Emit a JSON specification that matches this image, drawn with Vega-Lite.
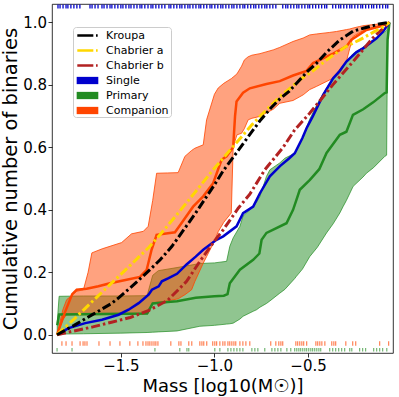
{
"$schema":"https://vega.github.io/schema/vega-lite/v6.json",
"width":341,"height":349,
"autosize":{"type":"none"},
"padding":{"left":52,"top":4,"right":6,"bottom":44},
"config":{"view":{"stroke":"#000","strokeWidth":0.8},"font":"DejaVu Sans",
"axis":{"grid":false,"domain":false,"tickColor":"#000","tickWidth":0.8,"tickSize":4,"labelFont":"DejaVu Sans","labelFontSize":15,"labelColor":"#000","titleFont":"DejaVu Sans","titleFontWeight":"normal","titleColor":"#000","labelPadding":1.5}},
"datasets":{
"primaryBand":[{"m":-1.84,"lo":0.0,"hi":0.04},{"m":-1.83,"lo":0.002,"hi":0.123},{"m":-1.7,"lo":0.003,"hi":0.124},{"m":-1.5,"lo":0.005,"hi":0.124},{"m":-1.36,"lo":0.007,"hi":0.125},{"m":-1.33,"lo":0.008,"hi":0.19},{"m":-1.3,"lo":0.009,"hi":0.205},{"m":-1.2,"lo":0.012,"hi":0.215},{"m":-1.078,"lo":0.027,"hi":0.228},{"m":-1.0,"lo":0.03,"hi":0.23},{"m":-0.935,"lo":0.034,"hi":0.235},{"m":-0.918,"lo":0.035,"hi":0.283},{"m":-0.9,"lo":0.037,"hi":0.31},{"m":-0.864,"lo":0.05,"hi":0.347},{"m":-0.847,"lo":0.059,"hi":0.38},{"m":-0.793,"lo":0.075,"hi":0.41},{"m":-0.775,"lo":0.08,"hi":0.425},{"m":-0.757,"lo":0.088,"hi":0.443},{"m":-0.722,"lo":0.1,"hi":0.507},{"m":-0.704,"lo":0.108,"hi":0.528},{"m":-0.651,"lo":0.133,"hi":0.55},{"m":-0.624,"lo":0.145,"hi":0.565},{"m":-0.571,"lo":0.18,"hi":0.581},{"m":-0.562,"lo":0.187,"hi":0.59},{"m":-0.53,"lo":0.21,"hi":0.63},{"m":-0.491,"lo":0.25,"hi":0.69},{"m":-0.45,"lo":0.28,"hi":0.74},{"m":-0.401,"lo":0.326,"hi":0.79},{"m":-0.366,"lo":0.355,"hi":0.82},{"m":-0.33,"lo":0.39,"hi":0.85},{"m":-0.313,"lo":0.41,"hi":0.862},{"m":-0.295,"lo":0.43,"hi":0.875},{"m":-0.259,"lo":0.475,"hi":0.9},{"m":-0.206,"lo":0.505,"hi":0.92},{"m":-0.188,"lo":0.517,"hi":0.928},{"m":-0.15,"lo":0.535,"hi":0.945},{"m":-0.09,"lo":0.571,"hi":0.97},{"m":-0.08,"lo":0.575,"hi":0.975},{"m":-0.075,"lo":0.96,"hi":0.98},{"m":-0.065,"lo":1.0,"hi":1.0}],
"primaryMid":[{"m":-1.84,"v":0.03},{"m":-1.83,"v":0.065},{"m":-1.36,"v":0.068},{"m":-1.33,"v":0.1},{"m":-1.25,"v":0.105},{"m":-1.2,"v":0.107},{"m":-1.1,"v":0.118},{"m":-1.0,"v":0.123},{"m":-0.95,"v":0.125},{"m":-0.93,"v":0.13},{"m":-0.918,"v":0.165},{"m":-0.864,"v":0.208},{"m":-0.793,"v":0.24},{"m":-0.76,"v":0.26},{"m":-0.748,"v":0.304},{"m":-0.722,"v":0.326},{"m":-0.615,"v":0.357},{"m":-0.58,"v":0.4},{"m":-0.562,"v":0.432},{"m":-0.544,"v":0.464},{"m":-0.49,"v":0.496},{"m":-0.44,"v":0.53},{"m":-0.401,"v":0.582},{"m":-0.33,"v":0.64},{"m":-0.295,"v":0.65},{"m":-0.26,"v":0.704},{"m":-0.205,"v":0.722},{"m":-0.152,"v":0.744},{"m":-0.09,"v":0.774},{"m":-0.08,"v":0.776},{"m":-0.075,"v":0.944},{"m":-0.065,"v":1.0}],
"compBand":[{"m":-1.841,"lo":0,"hi":0},{"m":-1.81,"lo":0.048,"hi":0.08},{"m":-1.79,"lo":0.064,"hi":0.112},{"m":-1.736,"lo":0.064,"hi":0.139},{"m":-1.7,"lo":0.064,"hi":0.144},{"m":-1.675,"lo":0.064,"hi":0.2},{"m":-1.655,"lo":0.064,"hi":0.262},{"m":-1.6,"lo":0.064,"hi":0.275},{"m":-1.496,"lo":0.065,"hi":0.295},{"m":-1.443,"lo":0.065,"hi":0.323},{"m":-1.38,"lo":0.066,"hi":0.331},{"m":-1.354,"lo":0.068,"hi":0.347},{"m":-1.33,"lo":0.1,"hi":0.43},{"m":-1.309,"lo":0.104,"hi":0.517},{"m":-1.25,"lo":0.108,"hi":0.518},{"m":-1.194,"lo":0.115,"hi":0.519},{"m":-1.158,"lo":0.128,"hi":0.571},{"m":-1.122,"lo":0.144,"hi":0.59},{"m":-1.105,"lo":0.17,"hi":0.597},{"m":-1.06,"lo":0.229,"hi":0.608},{"m":-1.042,"lo":0.25,"hi":0.688},{"m":-1.0,"lo":0.3,"hi":0.77},{"m":-0.98,"lo":0.33,"hi":0.79},{"m":-0.95,"lo":0.36,"hi":0.805},{"m":-0.91,"lo":0.39,"hi":0.82},{"m":-0.9,"lo":0.6,"hi":0.825},{"m":-0.88,"lo":0.64,"hi":0.835},{"m":-0.855,"lo":0.645,"hi":0.86},{"m":-0.84,"lo":0.66,"hi":0.88},{"m":-0.82,"lo":0.688,"hi":0.89},{"m":-0.8,"lo":0.693,"hi":0.895},{"m":-0.757,"lo":0.699,"hi":0.9},{"m":-0.686,"lo":0.722,"hi":0.912},{"m":-0.651,"lo":0.741,"hi":0.92},{"m":-0.58,"lo":0.75,"hi":0.939},{"m":-0.526,"lo":0.768,"hi":0.95},{"m":-0.491,"lo":0.785,"hi":0.96},{"m":-0.455,"lo":0.795,"hi":0.963},{"m":-0.384,"lo":0.816,"hi":0.968},{"m":-0.348,"lo":0.828,"hi":0.971},{"m":-0.33,"lo":0.837,"hi":0.973},{"m":-0.295,"lo":0.875,"hi":0.977},{"m":-0.277,"lo":0.917,"hi":0.979},{"m":-0.259,"lo":0.955,"hi":0.982},{"m":-0.224,"lo":0.968,"hi":0.987},{"m":-0.2,"lo":0.975,"hi":0.99},{"m":-0.12,"lo":0.99,"hi":0.995},{"m":-0.065,"lo":1.0,"hi":1.0}],
"compMid":[{"m":-1.841,"v":0},{"m":-1.8,"v":0.07},{"m":-1.76,"v":0.13},{"m":-1.736,"v":0.144},{"m":-1.683,"v":0.147},{"m":-1.62,"v":0.155},{"m":-1.558,"v":0.165},{"m":-1.469,"v":0.176},{"m":-1.398,"v":0.185},{"m":-1.362,"v":0.208},{"m":-1.336,"v":0.272},{"m":-1.309,"v":0.32},{"m":-1.211,"v":0.328},{"m":-1.185,"v":0.35},{"m":-1.114,"v":0.41},{"m":-1.06,"v":0.443},{"m":-1.007,"v":0.485},{"m":-0.962,"v":0.56},{"m":-0.935,"v":0.571},{"m":-0.9,"v":0.6},{"m":-0.89,"v":0.7},{"m":-0.882,"v":0.747},{"m":-0.847,"v":0.775},{"m":-0.811,"v":0.789},{"m":-0.722,"v":0.803},{"m":-0.651,"v":0.812},{"m":-0.58,"v":0.83},{"m":-0.508,"v":0.845},{"m":-0.473,"v":0.87},{"m":-0.366,"v":0.9},{"m":-0.295,"v":0.923},{"m":-0.268,"v":0.945},{"m":-0.188,"v":0.976},{"m":-0.117,"v":0.987},{"m":-0.065,"v":1.0}],
"single":[{"m":-1.841,"v":0},{"m":-1.779,"v":0.021},{"m":-1.69,"v":0.037},{"m":-1.601,"v":0.048},{"m":-1.512,"v":0.064},{"m":-1.459,"v":0.08},{"m":-1.405,"v":0.101},{"m":-1.352,"v":0.128},{"m":-1.334,"v":0.144},{"m":-1.298,"v":0.155},{"m":-1.281,"v":0.171},{"m":-1.245,"v":0.181},{"m":-1.2,"v":0.195},{"m":-1.149,"v":0.225},{"m":-1.1,"v":0.25},{"m":-1.06,"v":0.272},{"m":-0.989,"v":0.304},{"m":-0.953,"v":0.315},{"m":-0.882,"v":0.347},{"m":-0.847,"v":0.389},{"m":-0.793,"v":0.41},{"m":-0.757,"v":0.453},{"m":-0.704,"v":0.507},{"m":-0.65,"v":0.54},{"m":-0.6,"v":0.565},{"m":-0.571,"v":0.581},{"m":-0.53,"v":0.63},{"m":-0.508,"v":0.661},{"m":-0.474,"v":0.7},{"m":-0.419,"v":0.768},{"m":-0.366,"v":0.821},{"m":-0.33,"v":0.845},{"m":-0.295,"v":0.875},{"m":-0.241,"v":0.905},{"m":-0.206,"v":0.917},{"m":-0.134,"v":0.949},{"m":-0.1,"v":0.97},{"m":-0.065,"v":1.0}],
"kroupa":[{"m":-1.841,"v":0},{"m":-1.75,"v":0.03},{"m":-1.65,"v":0.065},{"m":-1.55,"v":0.1},{"m":-1.512,"v":0.118},{"m":-1.45,"v":0.15},{"m":-1.35,"v":0.205},{"m":-1.29,"v":0.24},{"m":-1.227,"v":0.283},{"m":-1.1,"v":0.39},{"m":-1.0,"v":0.48},{"m":-0.953,"v":0.525},{"m":-0.9,"v":0.568},{"m":-0.8,"v":0.65},{"m":-0.757,"v":0.685},{"m":-0.7,"v":0.725},{"m":-0.651,"v":0.755},{"m":-0.6,"v":0.78},{"m":-0.5,"v":0.845},{"m":-0.455,"v":0.869},{"m":-0.4,"v":0.905},{"m":-0.33,"v":0.944},{"m":-0.259,"v":0.972},{"m":-0.2,"v":0.982},{"m":-0.12,"v":0.995},{"m":-0.065,"v":1.0}],
"chabA":[{"m":-1.841,"v":0},{"m":-1.75,"v":0.05},{"m":-1.65,"v":0.108},{"m":-1.55,"v":0.165},{"m":-1.45,"v":0.222},{"m":-1.35,"v":0.28},{"m":-1.291,"v":0.32},{"m":-1.2,"v":0.385},{"m":-1.105,"v":0.455},{"m":-1.007,"v":0.528},{"m":-0.9,"v":0.603},{"m":-0.8,"v":0.672},{"m":-0.757,"v":0.699},{"m":-0.651,"v":0.762},{"m":-0.544,"v":0.816},{"m":-0.473,"v":0.845},{"m":-0.401,"v":0.88},{"m":-0.3,"v":0.922},{"m":-0.224,"v":0.944},{"m":-0.153,"v":0.968},{"m":-0.1,"v":0.985},{"m":-0.065,"v":1.0}],
"chabB":[{"m":-1.841,"v":0},{"m":-1.75,"v":0.012},{"m":-1.65,"v":0.025},{"m":-1.55,"v":0.04},{"m":-1.45,"v":0.055},{"m":-1.35,"v":0.078},{"m":-1.25,"v":0.11},{"m":-1.15,"v":0.17},{"m":-1.078,"v":0.235},{"m":-1.0,"v":0.3},{"m":-0.953,"v":0.336},{"m":-0.873,"v":0.405},{"m":-0.811,"v":0.45},{"m":-0.731,"v":0.528},{"m":-0.633,"v":0.6},{"m":-0.571,"v":0.656},{"m":-0.49,"v":0.71},{"m":-0.368,"v":0.8},{"m":-0.26,"v":0.874},{"m":-0.154,"v":0.95},{"m":-0.065,"v":1.0}],
"rugS":[{"m":-1.836},{"m":-1.825},{"m":-1.809},{"m":-1.793},{"m":-1.783},{"m":-1.767},{"m":-1.751},{"m":-1.735},{"m":-1.719},{"m":-1.665},{"m":-1.654},{"m":-1.638},{"m":-1.622},{"m":-1.601},{"m":-1.59},{"m":-1.574},{"m":-1.558},{"m":-1.548},{"m":-1.532},{"m":-1.516},{"m":-1.5},{"m":-1.489},{"m":-1.473},{"m":-1.457},{"m":-1.446},{"m":-1.43},{"m":-1.414},{"m":-1.398},{"m":-1.388},{"m":-1.372},{"m":-1.355},{"m":-1.339},{"m":-1.329},{"m":-1.313},{"m":-1.297},{"m":-1.281},{"m":-1.265},{"m":-1.243},{"m":-1.233},{"m":-1.217},{"m":-1.201},{"m":-1.185},{"m":-1.174},{"m":-1.158},{"m":-1.142},{"m":-1.131},{"m":-1.115},{"m":-1.099},{"m":-1.083},{"m":-1.073},{"m":-1.057},{"m":-1.041},{"m":-1.024},{"m":-1.014},{"m":-0.998},{"m":-0.982},{"m":-0.966},{"m":-0.955},{"m":-0.939},{"m":-0.923},{"m":-0.907},{"m":-0.896},{"m":-0.88},{"m":-0.864},{"m":-0.848},{"m":-0.838},{"m":-0.822},{"m":-0.806},{"m":-0.79},{"m":-0.779},{"m":-0.763},{"m":-0.747},{"m":-0.731},{"m":-0.72},{"m":-0.704},{"m":-0.688},{"m":-0.672},{"m":-0.635},{"m":-0.619},{"m":-0.608},{"m":-0.592},{"m":-0.576},{"m":-0.56},{"m":-0.549},{"m":-0.533},{"m":-0.517},{"m":-0.501},{"m":-0.491},{"m":-0.475},{"m":-0.459},{"m":-0.443},{"m":-0.427},{"m":-0.411},{"m":-0.4},{"m":-0.368},{"m":-0.352},{"m":-0.336},{"m":-0.325},{"m":-0.309},{"m":-0.293},{"m":-0.277},{"m":-0.266},{"m":-0.25},{"m":-0.234},{"m":-0.218},{"m":-0.208},{"m":-0.192},{"m":-0.176},{"m":-0.16},{"m":-0.149},{"m":-0.133},{"m":-0.117},{"m":-0.101},{"m":-0.085},{"m":-0.074}],
"rugC":[{"m":-1.815},{"m":-1.793},{"m":-1.761},{"m":-1.718},{"m":-1.702},{"m":-1.692},{"m":-1.681},{"m":-1.617},{"m":-1.558},{"m":-1.505},{"m":-1.452},{"m":-1.409},{"m":-1.382},{"m":-1.366},{"m":-1.355},{"m":-1.345},{"m":-1.334},{"m":-1.323},{"m":-1.313},{"m":-1.302},{"m":-1.233},{"m":-1.19},{"m":-1.179},{"m":-1.137},{"m":-1.121},{"m":-1.078},{"m":-1.067},{"m":-1.057},{"m":-1.041},{"m":-1.009},{"m":-0.998},{"m":-0.988},{"m":-0.971},{"m":-0.955},{"m":-0.944},{"m":-0.928},{"m":-0.918},{"m":-0.907},{"m":-0.896},{"m":-0.886},{"m":-0.864},{"m":-0.848},{"m":-0.832},{"m":-0.811},{"m":-0.699},{"m":-0.672},{"m":-0.656},{"m":-0.645},{"m":-0.635},{"m":-0.565},{"m":-0.555},{"m":-0.544},{"m":-0.533},{"m":-0.523},{"m":-0.507},{"m":-0.458},{"m":-0.448},{"m":-0.437},{"m":-0.426},{"m":-0.41},{"m":-0.373},{"m":-0.362},{"m":-0.352},{"m":-0.298},{"m":-0.261},{"m":-0.245},{"m":-0.117},{"m":-0.069}],
"rugP":[{"m":-1.841},{"m":-1.761},{"m":-1.318},{"m":-1.185},{"m":-1.147},{"m":-1.137},{"m":-0.998},{"m":-0.971},{"m":-0.928},{"m":-0.912},{"m":-0.896},{"m":-0.88},{"m":-0.864},{"m":-0.848},{"m":-0.8},{"m":-0.784},{"m":-0.768},{"m":-0.731},{"m":-0.693},{"m":-0.677},{"m":-0.661},{"m":-0.645},{"m":-0.613},{"m":-0.592},{"m":-0.571},{"m":-0.56},{"m":-0.549},{"m":-0.539},{"m":-0.528},{"m":-0.517},{"m":-0.507},{"m":-0.496},{"m":-0.485},{"m":-0.475},{"m":-0.464},{"m":-0.453},{"m":-0.442},{"m":-0.432},{"m":-0.384},{"m":-0.368},{"m":-0.352},{"m":-0.336},{"m":-0.32},{"m":-0.304},{"m":-0.277},{"m":-0.266},{"m":-0.224},{"m":-0.208},{"m":-0.192},{"m":-0.149},{"m":-0.133},{"m":-0.117},{"m":-0.101},{"m":-0.079}],
"legend":[{"cat":"Kroupa","m":1.0,"v":0.5},{"cat":"Chabrier a","m":1.0,"v":0.5},{"cat":"Chabrier b","m":1.0,"v":0.5},{"cat":"Single","m":1.0,"v":0.5},{"cat":"Primary","m":1.0,"v":0.5},{"cat":"Companion","m":1.0,"v":0.5}]
},
"encoding":{"x":{"field":"m","type":"quantitative","scale":{"domain":[-1.868,-0.046],"nice":false,"zero":false},"axis":{"values":[-1.5,-1.0,-0.5],"format":".1f","title":"Mass [log10(M☉)]","titleFontSize":18,"titlePadding":4}}},
"layer":[
{"data":{"name":"primaryBand"},"mark":{"type":"area","fill":"#228b22","fillOpacity":0.5,"stroke":"#228b22","strokeOpacity":0.7,"strokeWidth":1},
"encoding":{"y":{"field":"hi","type":"quantitative","scale":{"domain":[-0.0586,1.059],"nice":false,"zero":false},"axis":{"values":[0,0.2,0.4,0.6,0.8,1.0],"format":".1f","title":"Cumulative number of binaries","titleFontSize":19.5,"titlePadding":2}},"y2":{"field":"lo"}}},
{"data":{"name":"compBand"},"mark":{"type":"area","fill":"#ff4500","fillOpacity":0.5,"stroke":"#ff4500","strokeOpacity":0.8,"strokeWidth":1},
"encoding":{"y":{"field":"hi","type":"quantitative","scale":{"domain":[-0.0586,1.059],"nice":false,"zero":false}},"y2":{"field":"lo"}}},
{"data":{"name":"primaryMid"},"mark":{"type":"line","color":"#228b22","strokeWidth":2.5},
"encoding":{"y":{"field":"v","type":"quantitative","scale":{"domain":[-0.0586,1.059],"nice":false,"zero":false}}}},
{"data":{"name":"compMid"},"mark":{"type":"line","color":"#ff4500","strokeWidth":2.5},
"encoding":{"y":{"field":"v","type":"quantitative","scale":{"domain":[-0.0586,1.059],"nice":false,"zero":false}}}},
{"data":{"name":"single"},"mark":{"type":"line","color":"#0000cd","strokeWidth":2.5},
"encoding":{"y":{"field":"v","type":"quantitative","scale":{"domain":[-0.0586,1.059],"nice":false,"zero":false}}}},
{"data":{"name":"chabB"},"mark":{"type":"line","color":"#b22222","strokeWidth":3,"strokeDash":[9,3,2.5,3],"strokeCap":"butt"},
"encoding":{"y":{"field":"v","type":"quantitative","scale":{"domain":[-0.0586,1.059],"nice":false,"zero":false}}}},
{"data":{"name":"chabA"},"mark":{"type":"line","color":"#ffd700","strokeWidth":3,"strokeDash":[9,3,2.5,3],"strokeCap":"butt"},
"encoding":{"y":{"field":"v","type":"quantitative","scale":{"domain":[-0.0586,1.059],"nice":false,"zero":false}}}},
{"data":{"name":"kroupa"},"mark":{"type":"line","color":"#000000","strokeWidth":3,"strokeDash":[9,3,2.5,3],"strokeCap":"butt"},
"encoding":{"y":{"field":"v","type":"quantitative","scale":{"domain":[-0.0586,1.059],"nice":false,"zero":false}}}},
{"data":{"name":"rugS"},"mark":{"type":"tick","orient":"vertical","size":4,"thickness":1.3,"color":"#0000cd","opacity":1},
"encoding":{"y":{"datum":1.051,"type":"quantitative","scale":{"domain":[-0.0586,1.059],"nice":false,"zero":false}}}},
{"data":{"name":"rugC"},"mark":{"type":"tick","orient":"vertical","size":4.5,"thickness":1,"color":"#ff4500","opacity":0.8},
"encoding":{"y":{"datum":-0.028,"type":"quantitative","scale":{"domain":[-0.0586,1.059],"nice":false,"zero":false}}}},
{"data":{"name":"rugP"},"mark":{"type":"tick","orient":"vertical","size":3.5,"thickness":1,"color":"#228b22","opacity":0.75},
"encoding":{"y":{"datum":-0.048,"type":"quantitative","scale":{"domain":[-0.0586,1.059],"nice":false,"zero":false}}}},
{"data":{"name":"legend"},"mark":{"type":"point","filled":true,"opacity":1,"clip":true},
"encoding":{"y":{"field":"v","type":"quantitative","scale":{"domain":[-0.0586,1.059],"nice":false,"zero":false}},
"color":{"field":"cat","type":"nominal","scale":{"domain":["Kroupa","Chabrier a","Chabrier b","Single","Primary","Companion"],"range":["#000000","#ffd700","#b22222","#0000cd","#228b22","#ff4500"]},
"legend":{"title":null,"orient":"none","legendX":21,"legendY":23,"padding":1.5,"fillColor":"rgba(255,255,255,0.8)","strokeColor":"#cccccc","cornerRadius":3,"symbolSize":196,"symbolStrokeWidth":0,"symbolOpacity":1,"labelFont":"DejaVu Sans","labelFontSize":11,"labelColor":"#000","labelOffset":17.5,"rowPadding":3,"labelLimit":200}},
"shape":{"field":"cat","type":"nominal","scale":{"domain":["Kroupa","Chabrier a","Chabrier b","Single","Primary","Companion"],"range":["M-0.6,-0.19H1.69V0.19H-0.6Z M2.07,-0.19H2.31V0.19H2.07Z","M-0.6,-0.19H1.69V0.19H-0.6Z M2.07,-0.19H2.31V0.19H2.07Z","M-0.6,-0.19H1.69V0.19H-0.6Z M2.07,-0.19H2.31V0.19H2.07Z","M-0.69,-0.52H2.4V0.52H-0.69Z","M-0.69,-0.52H2.4V0.52H-0.69Z","M-0.69,-0.52H2.4V0.52H-0.69Z"]},
"legend":{"title":null,"orient":"none","legendX":21,"legendY":23,"padding":1.5,"fillColor":"rgba(255,255,255,0.8)","strokeColor":"#cccccc","cornerRadius":3,"symbolSize":196,"symbolStrokeWidth":0,"symbolOpacity":1,"labelFont":"DejaVu Sans","labelFontSize":11,"labelColor":"#000","labelOffset":17.5,"rowPadding":3,"labelLimit":200}}}}
]
}
